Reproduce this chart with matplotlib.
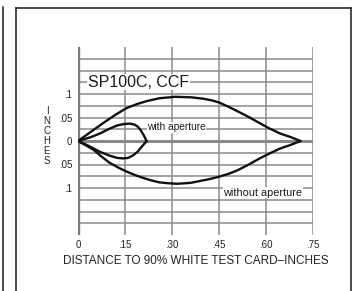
import matplotlib
matplotlib.use("Agg")
import matplotlib.pyplot as plt
from matplotlib.lines import Line2D

plt.rcParams['font.family'] = ['Liberation Sans', 'DejaVu Sans']

# ---- data ----
outer_upper_x = [0, 0.04, 0.08, 0.12, 0.155, 0.19, 0.22, 0.26, 0.31, 0.36, 0.40, 0.43, 0.45, 0.48,
                 0.51, 0.545, 0.58, 0.61, 0.645, 0.68, 0.71]
outer_upper_y = [0, 0.019, 0.038, 0.056, 0.070, 0.079, 0.085, 0.091, 0.094, 0.093, 0.090, 0.086, 0.082,
                 0.073, 0.063, 0.051, 0.038, 0.027, 0.016, 0.008, 0]
outer_lower_x = [0, 0.03, 0.05, 0.075, 0.10, 0.13, 0.155, 0.18, 0.21, 0.235, 0.26, 0.29, 0.315, 0.34,
                 0.36, 0.39, 0.42, 0.45, 0.48, 0.51, 0.545, 0.58, 0.61, 0.645, 0.68, 0.71]
outer_lower_y = [0, -0.011, -0.019, -0.033, -0.046, -0.057, -0.065, -0.072, -0.079, -0.084, -0.088,
                 -0.090, -0.091, -0.090, -0.089, -0.085, -0.081, -0.076, -0.070, -0.062, -0.050,
                 -0.037, -0.027, -0.016, -0.008, 0]

inner_upper_x = [0, 0.04, 0.07, 0.10, 0.125, 0.145, 0.165, 0.18, 0.19, 0.20, 0.21, 0.219]
inner_upper_y = [0, 0.008, 0.016, 0.026, 0.033, 0.036, 0.037, 0.035, 0.031, 0.023, 0.012, 0]
inner_lower_x = [0, 0.03, 0.07, 0.10, 0.125, 0.145, 0.16, 0.175, 0.19, 0.205, 0.219]
inner_lower_y = [0, -0.009, -0.023, -0.031, -0.036, -0.037, -0.036, -0.031, -0.023, -0.011, 0]

x_ticks = [0, 0.15, 0.30, 0.45, 0.60, 0.75]
x_tick_labels = ['0', '.15', '.30', '.45', '.60', '.75']
y_ticks = [-0.1, -0.05, 0, 0.05, 0.1]
y_tick_labels = ['.1', '.05', '0', '.05', '.1']
h_grid = [-0.175, -0.15, -0.125, -0.1, -0.075, -0.05, -0.025, 0.025, 0.05, 0.075, 0.1, 0.125, 0.15, 0.175]

W, H = 353, 291
fig = plt.figure(figsize=(W / 100, H / 100), dpi=100)
ax = fig.add_axes([78 / W, 1 - 235 / H, (313 - 78) / W, (235 - 47) / H])
ax.set_xlim(0, 0.75)
ax.set_ylim(-0.2, 0.2)
for s in ax.spines.values():
    s.set_visible(False)

grid_c = '#8a8a8a'
for yv in h_grid:
    ax.axhline(yv, color=grid_c, lw=1.1, zorder=1)
for xv in x_ticks[1:]:
    ax.axvline(xv, color=grid_c, lw=1.1, zorder=1)
ax.axhline(0, color='#8a8a8a', lw=2.2, zorder=1)
ax.axvline(0, color='#7a7a7a', lw=2.4, zorder=1)

lc = '#111111'
for xs, ys in [(outer_upper_x, outer_upper_y), (outer_lower_x, outer_lower_y),
               (inner_upper_x, inner_upper_y), (inner_lower_x, inner_lower_y)]:
    ax.plot(xs, ys, color=lc, lw=1.7, zorder=3, solid_joinstyle='round', solid_capstyle='round')

ax.set_xticks(x_ticks)
ax.set_xticklabels(x_tick_labels)
ax.set_yticks(y_ticks)
ax.set_yticklabels(y_tick_labels)
ax.tick_params(length=0, labelsize=7, colors='#222222')
ax.tick_params(axis='x', pad=3.5)
ax.tick_params(axis='y', pad=4)

ax.set_xlabel('DISTANCE TO 90% WHITE TEST CARD\u2013INCHES', fontsize=8.5, color='#222222', labelpad=4)

ax.text(0.032, 0.125, 'SP100C, CCF', fontsize=11.5, color='#1a1a1a', va='center', ha='left',
        bbox=dict(facecolor='white', edgecolor='none', pad=0.5), zorder=4)
ax.text(0.22, 0.029, 'with aperture', fontsize=7.3, color='#1a1a1a', va='center', ha='left',
        bbox=dict(facecolor='white', edgecolor='none', pad=0.3), zorder=4)
ax.text(0.463, -0.11, 'without aperture', fontsize=7.8, color='#1a1a1a', va='center', ha='left',
        bbox=dict(facecolor='white', edgecolor='none', pad=0.3), zorder=4)

# stacked vertical axis label
fig.text(47 / W, 1 - 136 / H, '\n'.join('INCHES'), fontsize=7, color='#222222',
         ha='center', va='center', linespacing=0.98)

# frame
fc = '#1a1a1a'
def fl(x0, y0, x1, y1):
    fig.add_artist(Line2D([x0 / W, x1 / W], [1 - y0 / H, 1 - y1 / H], color=fc, lw=1.1,
                          transform=fig.transFigure))
fl(15.5, 7.5, 350.5, 7.5)
fl(15.5, 7.5, 15.5, 291)
fl(350.5, 7.5, 350.5, 291)
fl(3, 7, 3, 291)

fig.savefig('out.png', dpi=100)
